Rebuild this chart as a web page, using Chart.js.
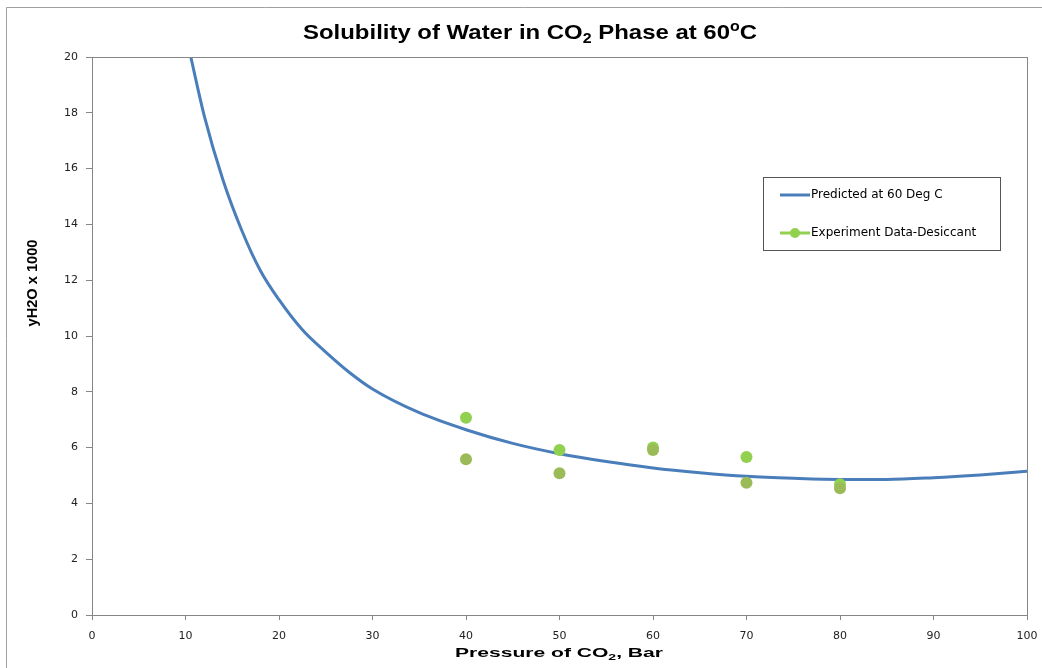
<!DOCTYPE html>
<html>
<head>
<meta charset="utf-8">
<script src="https://cdn.jsdelivr.net/npm/chart.js@4.4.1/dist/chart.umd.min.js"></script>
<style>
  html, body { margin: 0; padding: 0; background: #fff; }
  canvas { display: block; }
</style>
</head>
<body>
<canvas id="chart" width="1042" height="668"></canvas>
<script>
// Solubility of water in CO2 phase at 60 C: predicted curve + experiment points.

const X_TICKS = [0, 10, 20, 30, 40, 50, 60, 70, 80, 90, 100];
const Y_TICKS = [0, 2, 4, 6, 8, 10, 12, 14, 16, 18, 20];

// predicted curve
const predX = [10.5, 12, 14, 16, 18, 20, 22.5, 25, 27.5, 30, 35, 40,
	45, 50, 55, 60, 65, 70, 75, 80, 85, 90, 95, 100];
const predY = [20.1, 17.9, 15.6, 13.8, 12.35, 11.3, 10.22, 9.42, 8.7, 8.1, 7.25, 6.64,
	6.15, 5.78, 5.5, 5.27, 5.1, 4.97, 4.9, 4.86, 4.86, 4.92, 5.02, 5.15];

// experiment data - desiccant
const expX = [40, 50, 60, 70, 80];
const expY = [7.07, 5.91, 6.0, 5.66, 4.69];
// second set of measurements (not in legend)
const exp2X = [40, 50, 60, 70, 80];
const exp2Y = [5.58, 5.08, 5.91, 4.74, 4.54];

const LABELS = {
	pred: 'Predicted at 60 Deg C',
	exp: 'Experiment Data-Desiccant',
	exp2: 'Experiment Data-2',
};

const COLORS = {
	pred: '#4a7ebb',
	exp: '#92d050',
	exp2: '#9bbb59',
	axis: '#868686',
	text: '#222',
};

const FONT = '"Liberation Sans", Arial, sans-serif';
const TICK_FONT = '"DejaVu Sans", sans-serif';

function pts(xs, ys) { return xs.map((x, i) => ({ x, y: ys[i] })); }

// draws bold text runs with sub/superscripts, centred on (cx, cy), stretched to width tw
function richText(ctx, runs, cx, cy, size, tw) {
	const fontOf = r => 'bold ' + (r.sub || r.sup ? Math.round(size * 0.65) : size) + 'px ' + FONT;
	let w = 0;
	runs.forEach(r => { ctx.font = fontOf(r); w += ctx.measureText(r.t).width; });
	const sx = tw ? tw / w : 1;
	ctx.save();
	ctx.translate(cx, cy);
	ctx.scale(sx, 1);
	let x = -w / 2;
	ctx.textBaseline = 'middle';
	ctx.textAlign = 'left';
	runs.forEach(r => {
		ctx.font = fontOf(r);
		let dy = 0;
		if (r.sub) dy = size * 0.3;
		if (r.sup) dy = -size * 0.3;
		ctx.fillText(r.t, x, dy);
		x += ctx.measureText(r.t).width;
	});
	ctx.restore();
}

const decorPlugin = {
	id: 'decor',
	beforeDraw(chart) {
		const ctx = chart.ctx;
		ctx.save();
		ctx.fillStyle = '#fff';
		ctx.fillRect(0, 0, chart.width, chart.height);
		// outer chart frame
		ctx.strokeStyle = '#a0a0a0';
		ctx.lineWidth = 1;
		ctx.beginPath();
		ctx.moveTo(6.5, chart.height + 2);
		ctx.lineTo(6.5, 7.5);
		ctx.lineTo(chart.width + 2, 7.5);
		ctx.stroke();
		ctx.restore();
	},
	afterDatasetsDraw(chart) {
		const ctx = chart.ctx;
		const a = chart.chartArea;
		ctx.save();
		// plot area border
		ctx.strokeStyle = COLORS.axis;
		ctx.lineWidth = 1;
		ctx.strokeRect(a.left + 0.5, a.top + 0.5, a.right - a.left, a.bottom - a.top);

		ctx.fillStyle = '#000';
		// title
		richText(ctx, [
			{ t: 'Solubility of Water in CO' }, { t: '2', sub: true },
			{ t: ' Phase at 60' }, { t: 'o', sup: true }, { t: 'C' },
		], 530, 33, 21, 454);
		// x axis title
		richText(ctx, [{ t: 'Pressure of CO' }, { t: '2', sub: true }, { t: ', Bar' }], 559, 653, 13.5, 208);
		// y axis title
		ctx.save();
		ctx.translate(33, 283);
		ctx.rotate(-Math.PI / 2);
		richText(ctx, [{ t: 'yH2O x 1000' }], 0, 0, 14, 87);
		ctx.restore();

		// legend
		const lx = 763, ly = 177, lw = 237, lh = 73;
		ctx.fillStyle = '#fff';
		ctx.fillRect(lx, ly, lw, lh);
		ctx.strokeStyle = '#555';
		ctx.strokeRect(lx + 0.5, ly + 0.5, lw, lh);
		ctx.font = '12px ' + TICK_FONT;
		ctx.textBaseline = 'middle';
		ctx.textAlign = 'left';
		const rows = [
			{ label: LABELS.pred, color: COLORS.pred, dot: false, y: ly + 18 },
			{ label: LABELS.exp, color: COLORS.exp, dot: true, y: ly + 56 },
		];
		rows.forEach(r => {
			ctx.strokeStyle = r.color;
			ctx.lineWidth = 3;
			ctx.beginPath();
			ctx.moveTo(780, r.y);
			ctx.lineTo(810, r.y);
			ctx.stroke();
			if (r.dot) {
				ctx.fillStyle = r.color;
				ctx.beginPath();
				ctx.arc(795, r.y, 5, 0, Math.PI * 2);
				ctx.fill();
			}
			ctx.fillStyle = '#000';
			ctx.fillText(r.label, 811, r.y);
		});
		ctx.restore();
	},
};

const axisGrid = {
	display: true,
	drawOnChartArea: false,
	drawTicks: true,
	color: COLORS.axis,
};

new Chart(document.getElementById('chart'), {
	type: 'scatter',
	data: {
		datasets: [
			{
				label: LABELS.pred,
				data: pts(predX, predY),
				showLine: true,
				borderColor: COLORS.pred,
				backgroundColor: COLORS.pred,
				borderWidth: 3,
				pointRadius: 0,
				cubicInterpolationMode: 'monotone',
				order: 3,
			},
			{
				label: LABELS.exp,
				data: pts(expX, expY),
				backgroundColor: COLORS.exp,
				borderColor: COLORS.exp,
				pointRadius: 6,
				borderWidth: 0,
				order: 2,
			},
			{
				label: LABELS.exp2,
				data: pts(exp2X, exp2Y),
				backgroundColor: COLORS.exp2,
				borderColor: COLORS.exp2,
				pointRadius: 6,
				borderWidth: 0,
				order: 1,
			},
		],
	},
	options: {
		responsive: false,
		animation: false,
		layout: { padding: { left: 0, top: 57, right: 15, bottom: 0 } },
		plugins: {
			legend: { display: false },
			title: { display: false },
			tooltip: { enabled: false },
		},
		scales: {
			x: {
				type: 'linear',
				min: 0, max: 100,
				afterBuildTicks(s) { s.ticks = X_TICKS.map(v => ({ value: v })); },
				afterFit(s) { s.height = 53; s.paddingLeft = 0; s.paddingRight = 0; },
				ticks: { color: COLORS.text, font: { size: 11, family: TICK_FONT }, padding: 10, maxRotation: 0 },
				grid: { ...axisGrid, tickLength: 5 },
				border: { color: COLORS.axis },
			},
			y: {
				type: 'linear',
				min: 0, max: 20,
				afterBuildTicks(s) { s.ticks = Y_TICKS.map(v => ({ value: v })); },
				afterFit(s) { s.width = 92; s.paddingTop = 0; s.paddingBottom = 0; },
				ticks: { color: COLORS.text, font: { size: 11, family: TICK_FONT }, padding: 8 },
				grid: { ...axisGrid, tickLength: 6 },
				border: { color: COLORS.axis },
			},
		},
	},
	plugins: [decorPlugin],
});
</script>
</body>
</html>
